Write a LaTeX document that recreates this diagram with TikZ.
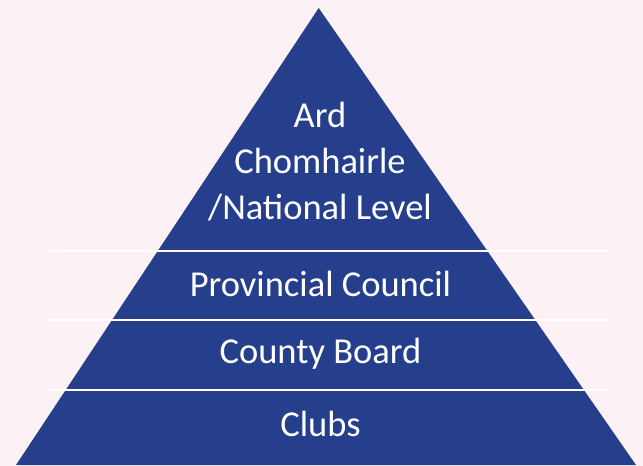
\documentclass[tikz,border=0pt]{standalone}
\usepackage{fontspec}
\setmainfont{Carlito}
\definecolor{pyrblue}{HTML}{253F8D}
\definecolor{pagepink}{HTML}{FCF2F5}
\tikzset{
  level/.style={text=white, font=\fontsize{36.5}{46}\selectfont, anchor=base, inner sep=0pt},
  sep/.style={white, line width=2.2pt}
}

\begin{document}
\begin{tikzpicture}[x=1pt,y=-1pt]
    % page and its margins
    \fill[pagepink] (0,0) rectangle (643,466);
    \useasboundingbox (0,0) rectangle (643,466);

    % Important coordinates are defined
    \coordinate (top) at (318.7,8);
    \coordinate (bot_l) at (16,465);
    \coordinate (bot_r) at (636,465);
    \coordinate (sep_1l) at (49,251);
    \coordinate (sep_1r) at (609,251);
    \coordinate (sep_2l) at (49,320);
    \coordinate (sep_2r) at (609,320);
    \coordinate (sep_3l) at (49,390);
    \coordinate (sep_3r) at (609,390);

    \fill[pyrblue] (top) -- (bot_r) -- (bot_l) -- cycle;
    \draw[sep] (sep_1l) -- (sep_1r);
    \draw[sep] (sep_2l) -- (sep_2r);
    \draw[sep] (sep_3l) -- (sep_3r);

    % multi-line node sits on its last baseline
    \node[level, align=center] (national) at (320,219.5) {Ard\\Chomhairle\\/National Level};
    \node[level] (provincial) at (320.5,296) {Provincial Council};
    \node[level] (county) at (320.5,363.5) {County Board};
    \node[level] (clubs) at (320.5,436) {Clubs};
\end{tikzpicture}
\end{document}
